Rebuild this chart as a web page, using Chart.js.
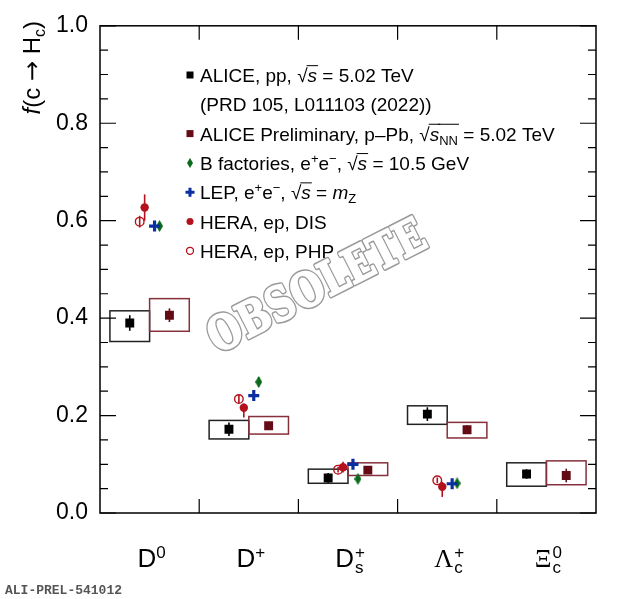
<!DOCTYPE html>
<html>
<head>
<meta charset="utf-8">
<script src="https://cdn.jsdelivr.net/npm/chart.js@4.4.1/dist/chart.umd.min.js"></script>
<style>
  html, body { margin: 0; padding: 0; background: #fff; }
  #wrap { width: 620px; height: 599px; }
</style>
</head>
<body>
<div id="wrap"><canvas id="fracChart"></canvas></div>
<script>
// charm hadron species, one per x bin
const species = ['D0', 'D+', 'Ds+', 'Lc+', 'Xic0'];
const yTicks = [0.0, 0.2, 0.4, 0.6, 0.8, 1.0];

// ALICE, pp 5.02 TeV
const ppValue = [0.390, 0.172, 0.072, 0.203, 0.080];
const ppStat = [0.016, 0.014, 0.010, 0.014, 0.010];
const ppSystLow = [0.352, 0.152, 0.061, 0.182, 0.055];
const ppSystHigh = [0.415, 0.190, 0.090, 0.220, 0.103];

// ALICE preliminary, p-Pb 5.02 TeV
const ppbValue = [0.406, 0.179, 0.088, 0.171, 0.077];
const ppbStat = [0.014, 0.007, 0.006, 0.009, 0.014];
const ppbSystLow = [0.373, 0.162, 0.077, 0.154, 0.058];
const ppbSystHigh = [0.440, 0.198, 0.103, 0.186, 0.107];

// e+e- and ep results (no Xic0)
const bfacValue = [0.589, 0.269, 0.070, 0.061];
const bfacErr = [0.006, 0.010, 0.007, 0.005];
const lepValue = [0.589, 0.241, 0.100, 0.060];
const lepErr = [0.007, 0.007, 0.005, 0.005];
const disValue = [0.627, 0.216, 0.094, 0.054];
const disErrUp = [0.027, 0.009, 0.011, 0.010];
const disErrDown = [0.027, 0.020, 0.011, 0.021];
const phpValue = [0.598, 0.234, 0.089, 0.067];
const phpErr = [0.012, 0.008, 0.006, 0.006];

const BLACK = '#000000';
const MAROON = '#640c16';
const MAROON_BOX = '#86303c';
const GREEN = '#0b6a1c';
const BLUE = '#0a2ea0';
const RED = '#b3121c';
const SANS = '"Liberation Sans", Arial, sans-serif';
const SERIF = '"Liberation Serif", "Times New Roman", serif';

function pts(values, shift) {
    return values.map((v, i) => ({ x: i + 0.5 + shift, y: v }));
}

function diamondImage(w, h, color) {
    const c = document.createElement('canvas');
    c.width = w;
    c.height = h;
    const g = c.getContext('2d');
    g.fillStyle = color;
    g.beginPath();
    g.moveTo(w / 2, 0);
    g.lineTo(w, h / 2);
    g.lineTo(w / 2, h);
    g.lineTo(0, h / 2);
    g.closePath();
    g.fill();
    return c;
}

// draws a run of text pieces (italic, sup, sub, stacked, overline)
function drawRich(ctx, x, y, parts, size, dry) {
    let cx = x;
    const small = Math.round(size * 0.66);
    parts.forEach(p => {
        const fam = p.fam || (p.serif ? SERIF : SANS);
        if (p.stack) {
            ctx.font = small + 'px ' + fam;
            const w1 = ctx.measureText(p.stack[0]).width;
            const w2 = ctx.measureText(p.stack[1]).width;
            if (!dry) {
                ctx.fillText(p.stack[0], cx + 1, y - size * 0.36);
                ctx.fillText(p.stack[1], cx + 1, y + size * 0.22);
            }
            cx += Math.max(w1, w2) + 1;
            return;
        }
        const s = (p.sup || p.sub) ? small : size;
        ctx.font = (p.it ? 'italic ' : '') + s + 'px ' + fam;
        let dy = 0;
        if (p.sup) dy = -size * 0.36;
        if (p.sub) dy = size * 0.22;
        const w = ctx.measureText(p.t).width;
        if (!dry) {
            ctx.fillText(p.t, cx, y + dy);
            if (p.over) {
                ctx.save();
                ctx.lineWidth = 1;
                ctx.beginPath();
                ctx.moveTo(cx - 1, y - size * 0.86);
                ctx.lineTo(cx + w + 1, y - size * 0.86);
                ctx.stroke();
                ctx.restore();
            }
        }
        cx += w;
    });
    return cx - x;
}

const catLabels = [
    [{ t: 'D' }, { t: '0', sup: true }],
    [{ t: 'D' }, { t: '+', sup: true }],
    [{ t: 'D' }, { stack: ['+', 's'] }],
    [{ t: 'Λ', serif: true }, { stack: ['+', 'c'] }],
    [{ t: 'Ξ', serif: true }, { stack: ['0', 'c'] }]
];

const legendRows = [
    { mark: 'sq', color: BLACK, parts: [{ t: 'ALICE, pp, ' }, { t: '√' }, { t: 's', it: true, over: true }, { t: ' = 5.02 TeV' }] },
    { mark: null, parts: [{ t: '(PRD 105, L011103 (2022))' }] },
    { mark: 'sq', color: MAROON, parts: [{ t: 'ALICE Preliminary, p–Pb, ' }, { t: '√' }, { t: 's', it: true, over: true }, { t: 'NN', sub: true, over: true }, { t: ' = 5.02 TeV' }] },
    { mark: 'dia', color: GREEN, parts: [{ t: 'B factories, e' }, { t: '+', sup: true }, { t: 'e' }, { t: '−', sup: true }, { t: ', ' }, { t: '√' }, { t: 's', it: true, over: true }, { t: ' = 10.5 GeV' }] },
    { mark: 'cross', color: BLUE, parts: [{ t: 'LEP, e' }, { t: '+', sup: true }, { t: 'e' }, { t: '−', sup: true }, { t: ', ' }, { t: '√' }, { t: 's', it: true, over: true }, { t: ' = ' }, { t: 'm', it: true }, { t: 'Z', sub: true }] },
    { mark: 'dot', color: RED, parts: [{ t: 'HERA, ep, DIS' }] },
    { mark: 'ring', color: RED, parts: [{ t: 'HERA, ep, PHP' }] }
];

function drawMark(ctx, kind, x, y, color) {
    ctx.save();
    ctx.fillStyle = color;
    ctx.strokeStyle = color;
    if (kind === 'sq') {
        ctx.fillRect(x - 3.5, y - 3.5, 7, 7);
    } else if (kind === 'dia') {
        ctx.beginPath();
        ctx.moveTo(x, y - 5); ctx.lineTo(x + 3, y); ctx.lineTo(x, y + 5); ctx.lineTo(x - 3, y);
        ctx.closePath();
        ctx.fill();
    } else if (kind === 'cross') {
        ctx.lineWidth = 3;
        ctx.beginPath();
        ctx.moveTo(x - 4.5, y); ctx.lineTo(x + 4.5, y);
        ctx.moveTo(x, y - 4.5); ctx.lineTo(x, y + 4.5);
        ctx.stroke();
    } else if (kind === 'dot') {
        ctx.beginPath();
        ctx.arc(x, y, 3.5, 0, Math.PI * 2);
        ctx.fill();
    } else if (kind === 'ring') {
        ctx.lineWidth = 1.3;
        ctx.beginPath();
        ctx.arc(x, y, 3.5, 0, Math.PI * 2);
        ctx.stroke();
    }
    ctx.restore();
}

const decorPlugin = {
    id: 'decor',
    beforeDatasetsDraw(chart) {
        const ctx = chart.ctx;
        const xs = chart.scales.x;
        const ys = chart.scales.y;
        ctx.save();
        // systematic boxes
        ctx.lineWidth = 1.5;
        species.forEach((s, i) => {
            ctx.strokeStyle = '#222';
            let x0 = xs.getPixelForValue(i + 0.1), x1 = xs.getPixelForValue(i + 0.5);
            let y0 = ys.getPixelForValue(ppSystHigh[i]), y1 = ys.getPixelForValue(ppSystLow[i]);
            ctx.strokeRect(x0, y0, x1 - x0, y1 - y0);
            ctx.strokeStyle = MAROON_BOX;
            x0 = xs.getPixelForValue(i + 0.5); x1 = xs.getPixelForValue(i + 0.9);
            y0 = ys.getPixelForValue(ppbSystHigh[i]); y1 = ys.getPixelForValue(ppbSystLow[i]);
            ctx.strokeRect(x0, y0, x1 - x0, y1 - y0);
        });
        // error bars
        chart.data.datasets.forEach(ds => {
            ctx.strokeStyle = ds.borderColor === 'transparent' ? ds.backgroundColor : ds.barColor;
            ctx.lineWidth = 1.6;
            ds.data.forEach((p, i) => {
                const px = xs.getPixelForValue(p.x);
                ctx.beginPath();
                ctx.moveTo(px, ys.getPixelForValue(p.y + ds.errUp[i]));
                ctx.lineTo(px, ys.getPixelForValue(p.y - ds.errDown[i]));
                ctx.stroke();
            });
        });
        ctx.restore();
    },
    afterDraw(chart) {
        const ctx = chart.ctx;
        const a = chart.chartArea;
        const xs = chart.scales.x;
        const ys = chart.scales.y;
        ctx.save();

        // OBSOLETE watermark, hollow slab letters
        ctx.save();
        ctx.translate(318, 289);
        ctx.rotate(-27 * Math.PI / 180);
        ctx.font = 'bold 40px "DejaVu Serif", serif';
        const ww = ctx.measureText('OBSOLETE').width;
        const k = 238 / ww;
        ctx.scale(k, 1.25 * k);
        ctx.textAlign = 'center';
        ctx.textBaseline = 'middle';
        ctx.lineJoin = 'round';
        ctx.fillStyle = '#9a9a9a';
        ctx.strokeStyle = '#9a9a9a';
        ctx.lineWidth = 4;
        ctx.strokeText('OBSOLETE', 0, 0);
        ctx.fillText('OBSOLETE', 0, 0);
        ctx.fillStyle = '#fff';
        ctx.strokeStyle = '#fff';
        ctx.lineWidth = 1.4;
        ctx.strokeText('OBSOLETE', 0, 0);
        ctx.fillText('OBSOLETE', 0, 0);
        ctx.restore();

        // frame
        ctx.strokeStyle = '#000';
        ctx.lineWidth = 1.5;
        ctx.strokeRect(a.left, a.top, a.right - a.left, a.bottom - a.top);
        // y ticks, inward on both sides
        ctx.lineWidth = 1.2;
        for (let k = 0; k <= 20; k++) {
            const v = k * 0.05;
            const py = ys.getPixelForValue(v);
            const len = (k % 4 === 0) ? 16 : 8;
            ctx.beginPath();
            ctx.moveTo(a.left, py); ctx.lineTo(a.left + len, py);
            ctx.moveTo(a.right, py); ctx.lineTo(a.right - len, py);
            ctx.stroke();
        }
        // x bin edges, top and bottom
        for (let i = 1; i < species.length; i++) {
            const px = xs.getPixelForValue(i);
            ctx.beginPath();
            ctx.moveTo(px, a.top); ctx.lineTo(px, a.top + 14);
            ctx.moveTo(px, a.bottom); ctx.lineTo(px, a.bottom - 14);
            ctx.stroke();
        }

        // category labels
        ctx.fillStyle = '#000';
        ctx.textAlign = 'left';
        ctx.textBaseline = 'alphabetic';
        catLabels.forEach((parts, i) => {
            const w = drawRich(ctx, 0, 0, parts, 26, true);
            const cx = xs.getPixelForValue(i + 0.5);
            drawRich(ctx, cx - w / 2 + 2, 567, parts, 26, false);
        });

        // legend
        legendRows.forEach((row, k) => {
            const base = 82 + k * 29.3;
            if (row.mark) drawMark(ctx, row.mark, 190, base - 7, row.color);
            ctx.fillStyle = '#000';
            ctx.strokeStyle = '#000';
            drawRich(ctx, 200, base, row.parts, 19, false);
        });

        // y axis title
        ctx.save();
        ctx.translate(40, 21);
        ctx.rotate(-Math.PI / 2);
        const titleParts = [{ t: 'f', it: true }, { t: '(c ' }, { t: '→', fam: '"DejaVu Sans", sans-serif' }, { t: ' H' }, { t: 'c', sub: true }, { t: ')' }];
        const tw = drawRich(ctx, 0, 0, titleParts, 24, true);
        drawRich(ctx, -tw, 0, titleParts, 24, false);
        ctx.restore();

        // figure id
        ctx.font = 'bold 13px "Liberation Mono", "Courier New", monospace';
        ctx.fillStyle = '#555';
        ctx.fillText('ALI-PREL-541012', 5, 594);
        ctx.restore();
    }
};

const config = {
    type: 'scatter',
    data: {
        datasets: [
            {
                label: 'HERA, ep, PHP',
                data: pts(phpValue, -0.1),
                errUp: phpErr, errDown: phpErr,
                pointStyle: 'circle', pointRadius: 4.3, borderWidth: 1.4,
                borderColor: RED, backgroundColor: 'rgba(0,0,0,0)', barColor: RED
            },
            {
                label: 'HERA, ep, DIS',
                data: pts(disValue, -0.05),
                errUp: disErrUp, errDown: disErrDown,
                pointStyle: 'circle', pointRadius: 4.2, borderWidth: 0,
                borderColor: 'transparent', backgroundColor: RED
            },
            {
                label: 'LEP',
                data: pts(lepValue, 0.05),
                errUp: lepErr, errDown: lepErr,
                pointStyle: 'cross', pointRadius: 5.5, borderWidth: 3.2,
                borderColor: BLUE, backgroundColor: BLUE, barColor: BLUE
            },
            {
                label: 'B factories',
                data: pts(bfacValue, 0.1),
                errUp: bfacErr, errDown: bfacErr,
                pointStyle: diamondImage(7, 12, GREEN), pointRadius: 6,
                borderColor: 'transparent', backgroundColor: GREEN
            },
            {
                label: 'ALICE Preliminary, p-Pb',
                data: pts(ppbValue, 0.2),
                errUp: ppbStat, errDown: ppbStat,
                pointStyle: 'rect', pointRadius: 6.3, borderWidth: 0,
                borderColor: 'transparent', backgroundColor: MAROON
            },
            {
                label: 'ALICE, pp',
                data: pts(ppValue, -0.2),
                errUp: ppStat, errDown: ppStat,
                pointStyle: 'rect', pointRadius: 6.3, borderWidth: 0,
                borderColor: 'transparent', backgroundColor: BLACK
            }
        ]
    },
    options: {
        responsive: true,
        maintainAspectRatio: false,
        animation: false,
        layout: { padding: { top: 23, right: 24, bottom: 86, left: 0 } },
        plugins: {
            legend: { display: false },
            tooltip: { enabled: false }
        },
        scales: {
            x: {
                type: 'linear',
                min: 0,
                max: species.length,
                display: false
            },
            y: {
                type: 'linear',
                min: 0,
                max: 1,
                afterFit: (axis) => { axis.width = 100; },
                afterBuildTicks: (axis) => { axis.ticks = yTicks.map(v => ({ value: v })); },
                grid: { display: false, drawTicks: false },
                border: { display: false },
                ticks: {
                    padding: 12,
                    color: '#000',
                    font: { family: SANS, size: 23 },
                    callback: (v) => Number(v).toFixed(1)
                }
            }
        }
    },
    plugins: [decorPlugin]
};

new Chart(document.getElementById('fracChart'), config);
</script>
</body>
</html>
